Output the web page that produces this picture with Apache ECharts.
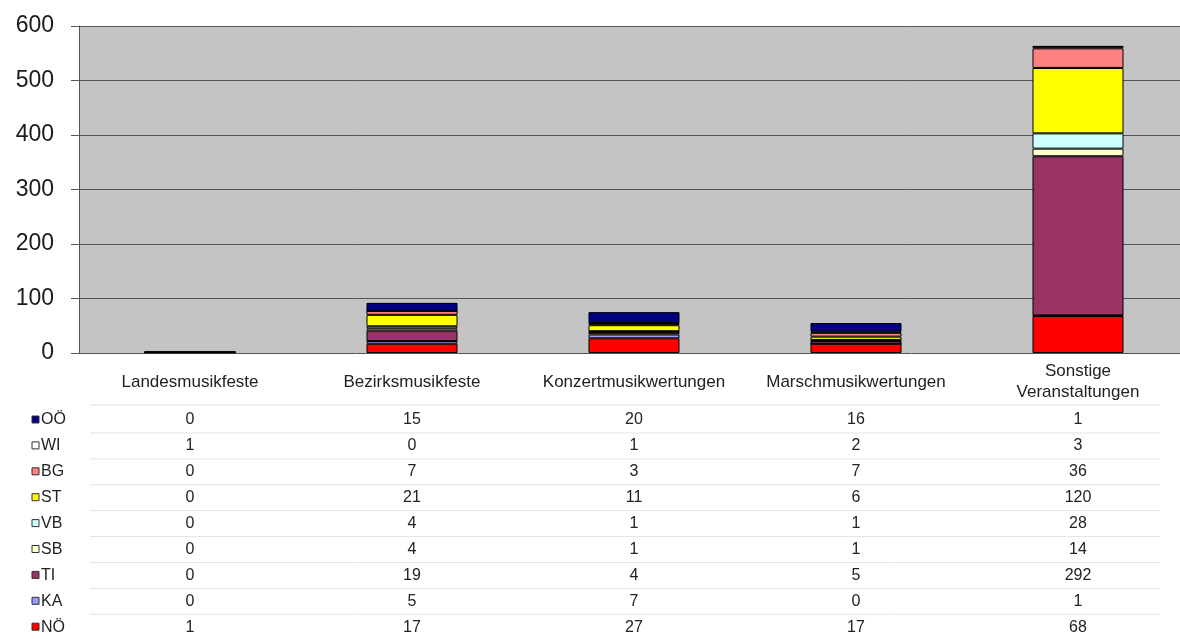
<!DOCTYPE html>
<html>
<head>
<meta charset="utf-8">
<script src="https://cdn.jsdelivr.net/npm/echarts@6/dist/echarts.min.js"></script>
<style>
  html, body { margin: 0; padding: 0; background: #fff; overflow: hidden; }
  #chart { width: 1190px; height: 639px; }
</style>
</head>
<body>
<div id="chart"></div>
<script>
// Kategorien (x-Achse)
var categories = ["Landesmusikfeste", "Bezirksmusikfeste", "Konzertmusikwertungen", "Marschmusikwertungen", "Sonstige\nVeranstaltungen"];
var yTicks = [0, 100, 200, 300, 400, 500, 600];

// Werte je Bundesland, Reihenfolge wie in der Datentabelle
var OOE = [0, 15, 20, 16, 1];
var WI  = [1, 0, 1, 2, 3];
var BG  = [0, 7, 3, 7, 36];
var ST  = [0, 21, 11, 6, 120];
var VB  = [0, 4, 1, 1, 28];
var SB  = [0, 4, 1, 1, 14];
var TI  = [0, 19, 4, 5, 292];
var KA  = [0, 5, 7, 0, 1];
var NOE = [1, 17, 27, 17, 68];

var rowNames = ["OÖ", "WI", "BG", "ST", "VB", "SB", "TI", "KA", "NÖ"];
var rowData = [OOE, WI, BG, ST, VB, SB, TI, KA, NOE];
var rowColors = ["#000080", "#ffffff", "#ff8080", "#ffff00", "#ccffff", "#ffffcc", "#993366", "#9999ff", "#ff0000"];

var FONT = "Liberation Sans, Arial, sans-serif";
var mychart = echarts.init(document.getElementById("chart"));

// gestapelt: unterste Reihe zuerst (NÖ unten, OÖ oben)
var series = [];
for (var i = rowNames.length - 1; i >= 0; i--) {
  series.push({
    name: rowNames[i],
    type: "bar",
    stack: "gesamt",
    barWidth: "41%",
    data: rowData[i],
    itemStyle: { color: rowColors[i], borderColor: "#000", borderWidth: 1 }
  });
}

mychart.setOption({
  animation: false,
  textStyle: { fontFamily: FONT },
  grid: {
    left: 79, top: 26, right: 1, bottom: 286,
    show: true, backgroundColor: "#c4c4c4", borderWidth: 0
  },
  xAxis: {
    type: "category",
    data: categories,
    axisLine: { show: false },
    axisTick: { show: false },
    axisLabel: {
      margin: 29, verticalAlign: "middle", lineHeight: 21,
      fontSize: 17, color: "#222", interval: 0
    }
  },
  yAxis: {
    type: "value",
    min: 0, max: 600, interval: 100,
    axisLine: { show: true, lineStyle: { color: "#555", width: 1 } },
    axisTick: { show: true, inside: false, length: 8, lineStyle: { color: "#555" } },
    splitLine: { show: true, lineStyle: { color: "#555", width: 1 } },
    axisLabel: {
      margin: 25, fontSize: 23, color: "#1a1a1a",
      formatter: function (v) { return yTicks.indexOf(v) >= 0 ? String(v) : ""; }
    }
  },
  series: series
});

// Datentabelle unter dem Diagramm, Spalten über die Kategorie-Achse positioniert
function drawTable() {
  var elements = [];
  var firstY = 420, step = 25.9;
  var leftX = 90, rightX = 1160;
  elements.push({ type: "line", silent: true,
    shape: { x1: leftX, y1: firstY - 15, x2: rightX, y2: firstY - 15 },
    style: { stroke: "#dedede", lineWidth: 1 } });
  for (var r = 0; r < rowNames.length; r++) {
    var y = firstY + r * step;
    // Legendenschlüssel
    elements.push({ type: "rect", silent: true,
      shape: { x: 32, y: y - 4, width: 7, height: 7 },
      style: { fill: rowColors[r], stroke: "#333", lineWidth: 1 } });
    elements.push({ type: "text", silent: true, x: 41, y: y,
      style: { text: rowNames[r], fontSize: 16, fill: "#222",
        fontFamily: FONT, verticalAlign: "middle" } });
    for (var c = 0; c < categories.length; c++) {
      var px = mychart.convertToPixel({ xAxisIndex: 0 }, c);
      elements.push({ type: "text", silent: true, x: px, y: y,
        style: { text: String(rowData[r][c]), fontSize: 16, fill: "#222",
          fontFamily: FONT, align: "center", verticalAlign: "middle" } });
    }
    if (r < rowNames.length - 1) {
      elements.push({ type: "line", silent: true,
        shape: { x1: leftX, y1: y + step / 2, x2: rightX, y2: y + step / 2 },
        style: { stroke: "#e4e4e4", lineWidth: 1 } });
    }
  }
  mychart.setOption({ graphic: { elements: elements } });
}
drawTable();
</script>
</body>
</html>
